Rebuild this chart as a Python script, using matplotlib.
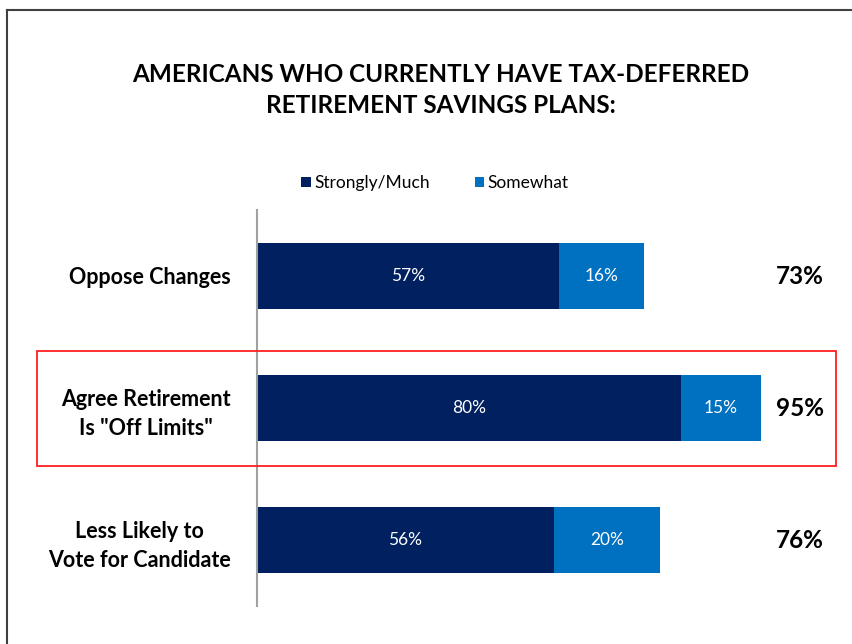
import matplotlib
matplotlib.use('Agg')
import matplotlib.pyplot as plt
import matplotlib.patches as patches
from matplotlib.lines import Line2D
import numpy as np

categories = ['Oppose Changes', 'Agree Retirement\nIs "Off Limits"', 'Less Likely to\nVote for Candidate']
strongly = [57, 80, 56]
somewhat = [16, 15, 20]
totals = [73, 95, 76]
series_names = ['Strongly/Much', 'Somewhat']

navy = '#002060'
blue = '#0070C0'

plt.rcParams['font.family'] = ['Lato', 'DejaVu Sans']

W, H = 852, 644
fig = plt.figure(figsize=(W / 100, H / 100), dpi=100)
fig.patch.set_facecolor('white')

# axes placed in pixel terms
ax = fig.add_axes([257 / W, 38 / H, 530 / W, 396 / H])
y = np.arange(len(categories))
b1 = ax.barh(y, strongly, height=0.5, color=navy, label=series_names[0])
b2 = ax.barh(y, somewhat, left=strongly, height=0.5, color=blue, label=series_names[1])

for i in range(len(categories)):
    ax.text(strongly[i] / 2, y[i], f'{strongly[i]}%', color='white', ha='center', va='center', fontsize=12.5)
    ax.text(strongly[i] + somewhat[i] / 2, y[i], f'{somewhat[i]}%', color='white', ha='center', va='center', fontsize=12.5)
    ax.text(102.5, y[i], f'{totals[i]}%', color='black', ha='center', va='center',
            fontsize=17.5, fontweight='bold', clip_on=False)

ax.set_xlim(0, 100)
ax.set_ylim(2.5, -0.5)
ax.set_yticks(y)
ax.set_yticklabels(categories, fontsize=15.5, fontweight='bold', linespacing=1.45)
for lbl in ax.get_yticklabels():
    lbl.set_multialignment('center')
ax.tick_params(axis='y', length=0, pad=19)
ax.set_xticks([])
for s in ['top', 'right', 'bottom']:
    ax.spines[s].set_visible(False)
ax.spines['left'].set_color('#a0a0a0')
ax.spines['left'].set_linewidth(1.5)

fig.text(441 / W, 1 - 90 / H, 'AMERICANS WHO CURRENTLY HAVE TAX-DEFERRED\nRETIREMENT SAVINGS PLANS:',
         ha='center', va='center', fontsize=17.5, fontweight='bold', linespacing=1.4)

fig.legend(handles=[b1, b2], loc='center', bbox_to_anchor=(435 / W, 1 - 183 / H), ncol=2,
           frameon=False, fontsize=12.5, handlelength=0.55, handleheight=0.55, handletextpad=0.2,
           columnspacing=2.6)

# outer frame lines
fig.add_artist(Line2D([7 / W, 1], [1 - 10 / H, 1 - 10 / H], color='#404040', lw=1.5))
fig.add_artist(Line2D([7 / W, 7 / W], [0, 1 - 10 / H], color='#404040', lw=1.5))

# highlight box
fig.add_artist(patches.Rectangle((37 / W, 1 - 466 / H), 799 / W, 115 / H, fill=False,
                                 edgecolor='#ff2020', lw=1.3, transform=fig.transFigure))

fig.savefig('out.png', dpi=100)
